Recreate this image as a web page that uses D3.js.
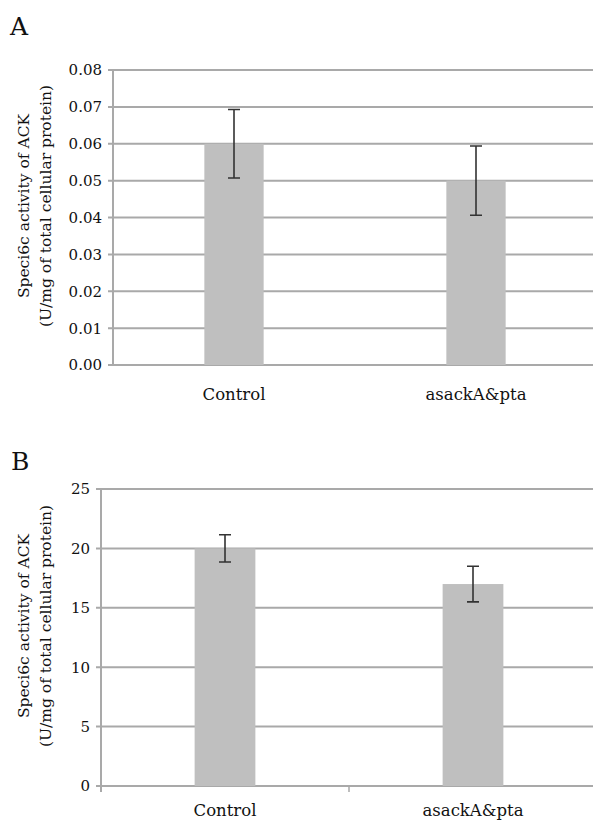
<!DOCTYPE html>
<html>
<head>
<meta charset="utf-8">
<script src="https://cdn.jsdelivr.net/npm/d3@7"></script>
<style>
  body { margin: 0; background: #fff; }
  svg { display: block; font-family: "DejaVu Serif", serif; }
  .grid line { stroke: #a9a9a9; stroke-width: 2; }
  .err { stroke: #333; stroke-width: 1.6; fill: none; }
</style>
</head>
<body>
<div id="graph"></div>
<script>
// data
var categories = ["Control", "asackA&pta"];

var valuesA = [0.06, 0.05];
var errorsA = [0.0093, 0.0094];
var ticksA = [0, 0.01, 0.02, 0.03, 0.04, 0.05, 0.06, 0.07, 0.08];

var valuesB = [20, 17];
var errorsB = [1.15, 1.5];
var ticksB = [0, 5, 10, 15, 20, 25];

var yTitle1 = "Speci6c activity of ACK";
var yTitle2 = "(U/mg of total cellular protein)";

var W = 593, H = 822;

var svg = d3.select("#graph")
    .append("svg")
    .attr("width", W)
    .attr("height", H);

// one panel
function panel(opt) {
  var x = d3.scaleBand()
      .domain(categories)
      .range([opt.left, 597])
      .paddingInner(0.755)
      .paddingOuter(0.3775);

  var y = d3.scaleLinear()
      .domain([0, opt.max])
      .range([opt.bottom, opt.top]);

  var g = svg.append("g");

  // gridlines incl. small tick on the left
  g.append("g")
      .attr("class", "grid")
      .selectAll("line")
      .data(opt.ticks)
      .enter()
      .append("line")
      .attr("x1", opt.left - 5)
      .attr("x2", W)
      .attr("y1", function(d) { return y(d); })
      .attr("y2", function(d) { return y(d); });

  // left axis line
  g.append("line")
      .attr("x1", opt.left).attr("x2", opt.left)
      .attr("y1", y(opt.max))
      .attr("y2", opt.bottom + (opt.xTicks ? 6 : 0))
      .attr("stroke", "#a9a9a9")
      .attr("stroke-width", 2);

  // category separator ticks
  if (opt.xTicks) {
    g.selectAll(".xtick")
        .data(categories.slice(1))
        .enter()
        .append("line")
        .attr("x1", function(d) { return x(d) - x.step() * x.paddingInner() / 2; })
        .attr("x2", function(d) { return x(d) - x.step() * x.paddingInner() / 2; })
        .attr("y1", opt.bottom)
        .attr("y2", opt.bottom + 6)
        .attr("stroke", "#a9a9a9")
        .attr("stroke-width", 1.5);
  }

  // tick labels
  g.selectAll(".ylab")
      .data(opt.ticks)
      .enter()
      .append("text")
      .attr("x", opt.left - 11)
      .attr("y", function(d) { return y(d); })
      .attr("dy", "0.36em")
      .attr("text-anchor", "end")
      .style("font-size", "15px")
      .style("fill", "#111")
      .text(opt.fmt);

  // bars
  g.selectAll(".bar")
      .data(opt.values)
      .enter()
      .append("rect")
      .attr("x", function(d, i) { return x(categories[i]); })
      .attr("width", x.bandwidth())
      .attr("y", function(d) { return y(d); })
      .attr("height", function(d) { return opt.bottom - y(d); })
      .attr("fill", "#bfbfbf");

  // error bars
  opt.values.forEach(function(v, i) {
    var cx = x(categories[i]) + x.bandwidth() / 2;
    var hi = y(v + opt.errors[i]), lo = y(v - opt.errors[i]);
    g.append("path")
        .attr("class", "err")
        .attr("d", "M" + cx + "," + hi + "V" + lo +
                   "M" + (cx - 6) + "," + hi + "H" + (cx + 6) +
                   "M" + (cx - 6) + "," + lo + "H" + (cx + 6));
  });

  // category labels
  g.selectAll(".xlab")
      .data(categories)
      .enter()
      .append("text")
      .attr("x", function(d) { return x(d) + x.bandwidth() / 2; })
      .attr("y", opt.xLabY)
      .attr("text-anchor", "middle")
      .style("font-size", "16.5px")
      .style("fill", "#111")
      .text(function(d) { return d; });

  // y title
  var t = g.append("g")
      .attr("transform", "translate(0," + opt.titleMid + ") rotate(-90)");
  t.append("text")
      .attr("x", 0).attr("y", 29)
      .attr("text-anchor", "middle")
      .style("font-size", "15.5px")
      .style("fill", "#111")
      .text(yTitle1);
  t.append("text")
      .attr("x", 0).attr("y", 51)
      .attr("text-anchor", "middle")
      .style("font-size", "15.5px")
      .style("fill", "#111")
      .text(yTitle2);

  // panel letter
  svg.append("text")
      .attr("x", opt.letterX)
      .attr("y", opt.letterY)
      .style("font-size", "25px")
      .style("fill", "#111")
      .text(opt.letter);
}

panel({
  letter: "A", letterX: 10, letterY: 35,
  left: 113, top: 70, bottom: 365, max: 0.08,
  values: valuesA, errors: errorsA, ticks: ticksA,
  fmt: d3.format(".2f"), xLabY: 400, titleMid: 206, xTicks: false
});

panel({
  letter: "B", letterX: 11, letterY: 470,
  left: 101, top: 489, bottom: 786, max: 25,
  values: valuesB, errors: errorsB, ticks: ticksB,
  fmt: d3.format("d"), xLabY: 816, titleMid: 626, xTicks: true
});
</script>
</body>
</html>
